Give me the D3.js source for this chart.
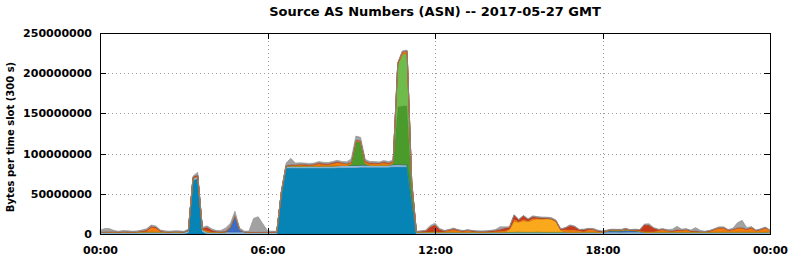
<!DOCTYPE html>
<html>
<head>
<meta charset="utf-8">
<script src="https://cdn.jsdelivr.net/npm/d3@7"></script>
<style>
body { margin: 0; background: #fff; }
svg text { font-family: "DejaVu Sans", sans-serif; font-weight: bold; fill: #000; }
</style>
</head>
<body>
<script>
var title = "Source AS Numbers (ASN) -- 2017-05-27 GMT";
var yLabel = "Bytes per time slot (300 s)";
var dayStart = "2017-05-27T00:00:00Z";
var stepMinutes = 10; // one value every 10 minutes, 145 values (00:00 .. 24:00)
var unit = 1e6;       // series values are in millions of bytes
var yTicks = [0, 50000000, 100000000, 150000000, 200000000, 250000000];
var xTickHours = [0, 6, 12, 18, 24];
var xTickLabels = ["00:00", "06:00", "12:00", "18:00", "00:00"];

// series, bottom to top of the stack
var tealAS = [
	0,0,0,0,0,0,0,0,0,0,0,0,
	0,0,0,0,0,0,0,2,67,69,3,0,
	0,0,0,0,0,0,0,0,0,0,0,0,
	0,0,0,50,82,82,82,82,82,82,82,82,
	82,82,82,82.5,82.5,82.5,82.5,82.5,83,83,83,83,
	83,83,83,83.5,83.5,83.5,83.5,40,0,0,0,0,
	0,0,0,0,0,0,0,0,0,0,0,0,
	0,0,0,0,0,0,0,0,0,0,0,0,
	0,0,0,0,0,0,0,0,0,0,0,0,
	0,0,0,0,0,0,0,0,0,0,0,0,
	0,0,0,0,0,0,0,0,0,0,0,0,
	0,0,0,0,0,0,0,0,0,0,0,0,
	0];
var lightBlueAS = [
	2.6,2.8,2.7,2.5,2.4,2.5,2.6,2.5,2.4,2.5,2.6,2.7,
	2.6,2.5,2.4,2.5,2.6,2.5,2.4,2.5,2.6,2.7,2.8,2.6,
	2.5,2.4,2.5,2.6,2.5,2.4,2.5,2.6,2.5,2.4,2.5,2.6,
	2.5,2.4,2.5,2.6,2.7,2.8,2.7,2.6,2.7,2.8,2.7,2.6,
	2.7,2.8,2.7,2.6,2.7,2.8,2.9,2.8,2.7,2.8,2.7,2.6,
	2.7,2.8,2.7,2.8,2.9,2.8,2.7,2.6,2.5,2.4,2.5,2.6,
	2.5,2.4,2.5,2.6,2.5,2.4,2.3,2.4,2.5,2.4,2.3,2.4,
	2.5,2.6,2.5,2.4,2.5,2.6,2.7,2.6,2.5,2.6,2.7,2.6,
	2.5,2.4,2.5,2.6,2.5,2.4,2.3,2.4,2.5,2.6,2.5,2.4,
	2.3,2.4,2.5,2.4,2.3,2.4,2.5,2.6,2.5,2.4,2.3,2.4,
	2.5,2.6,2.5,2.4,2.5,2.6,2.5,2.4,2.5,2.6,2.5,2.4,
	2.5,2.4,2.5,2.6,2.5,2.4,2.5,2.6,2.5,2.4,2.5,2.6,
	2.5];
var royalAS = [
	0,0,0,0,0,0,0,0,0,0,0,0,
	0,0,0,0,0,0,0,0,0,0,0,0,
	0,0,0,0,6,21,3,0,0,0,0,0,
	0,0,0,0,0,0,0,0,0,0,0,0,
	0,0,0,0,0,0,0,0,0,0,0,0,
	0,0,0,0,0,0,0,0,0,0,0,0,
	0,0,0,0,0,0,0,0,0,0,0,0,
	0,0,0,0,0,0,0,0,0,0,0,0,
	0,0,0,0,0,0,0,0,0,0,0,0,
	0,1,1.5,1,1.5,2,1.5,1,0.5,0,0,0,
	0,0,0,0,0,0,0,0,0,0,0,0,
	0,0,0,0,0,0,0,0,0,0,0,0,
	0];
var darkGreenAS = [
	0,0,0,0,0,0,0,0,0,0,0,0,
	0,0,0,0,0,0,0,0,0,0,0,0,
	0,0,0,0,0,0,0,0,0,0,0,0,
	0,0,0,0,0,0,0,0,0,0,0,0,
	0,0,0,0,0,0,2,30,29,2,0,0,
	0,0,0,2,72,73,73,15,0,0,0,0,
	0,0,0,0,0,0,0,0,0,0,0,0,
	0,0,0,0,0,0,0,0,0,0,0,0,
	0,0,0,0,0,0,0,0,0,0,0,0,
	0,0.5,1,1.5,1,1,0.5,1,0.5,0,0,0,
	0,0,0,0,0,0,0,0,0,0,0,0,
	0,0,0,0,0,0,0,0,0,0,0,0,
	0];
var lightGreenAS = [
	0,0,0,0,0,0,0,0,0,0,0,0,
	0,0,0,0,0,0,0,0,0,0,0,0,
	0,0,0,0,0,0,0,0,0,0,0,0,
	0,0,0,0,0,0,0,0,0,0,0,0,
	0,0,0,0,0,0,0,0,0,0,0,0,
	0,0,0,0,52,64,66,6,0,0,0,0,
	0,0,0,0,0,0,0,0,0,0,0,0,
	0,0,0,0,0,0,0,0,0,0,0,0,
	0,0,0,0,0,0,0,0,0,0,0,0,
	0,0,0,0,0,0,0,0,0,0,0,0,
	0,0,0,0,0,0,0,0,0,0,0,0,
	0,0,0,0,0,0,0,0,0,0,0,0,
	0];
var yellowAS = [
	0,0,0,0,0,0,0,0,0,0,0,0,
	0,0,0,0,0,0,0,0,0,0,0,0,
	0,0,0,0,0,0,0,0,0,0,0,0,
	0,0,0,0,0,0,0,0,0,0,0,0,
	0,0,0,0,0,0,0,0,0,0,0,0,
	0,0,0,0,0,0,0,0,0,0,0,0,
	0,0,0,0,0,0,0,0,0,0,0,0,
	0,0,0,0,3,13,12,14,13,15,16,16,
	16.5,16,13,2,0,0,0,0,0,0,0,0,
	0,0,0,0,0,0,0,0,0,0,0,0,
	0,0,0,0,0,0,0,0,0,0,0,0,
	0,0,0,0,0,0,0,0,0,0,0,0,
	0];
var orangeAS = [
	0,0,0,0.5,0,0.5,0,0,0.5,1,1,6,
	5,1,0.5,0,0.5,0.5,0,0,0.5,1,0.5,2,
	0.5,0.5,0,0,0,0,0,0,0,0,0,0,
	0,0,0,0,0.5,1,1,1.5,1,1,1.5,3,
	2,2,3,4,3,2,1.5,1,1,2,2,2.5,
	2,3,2,1.5,1.5,3,2,1,0.5,0.5,0.5,0.5,
	1,0.5,1,2,3,2,1,2,1,0.5,0.5,0.5,
	0.5,1,1.5,2,1,3,1,2,1,2,1,0.5,
	0.5,0.5,0.5,1,3,3,3,2,1,3,3,1,
	0.5,0.5,0.5,0.5,0.5,1,0.5,0.5,0.5,1,1,1,
	2,3,1.5,1,2,2,3,1,1,0.5,0.5,1,
	3,5,5,2,3,5,5,3,5,1.5,3,5,
	2];
var redAS = [
	0,0,0,0,0,0,0.5,0,0,0.5,1.5,1,
	1,0.5,0,0,0,0,0,0.5,1,1,0.5,4,
	2,0.5,0.5,1,0.5,0,0,0,0,0,0,0,
	0,0,0,0,0,0.5,0.5,0.5,1,0.5,0.5,1,
	1,0.5,1,1,0.5,0.5,0.5,0.5,0.5,1,1,0.5,
	0.5,1,1,0.5,0.5,0.5,0.5,0.5,0,0.5,1,6,
	8,3,0.5,0.5,1,0.5,0.5,0.5,0.5,0.5,0.5,0.5,
	1,1,2,3,2,5,2,4,2,2,1,1,
	0.5,0.5,0.5,0.5,2,5,4,1,2,1,0.5,0.5,
	0.5,0,0,0,0,0,0,0.5,1,8,8,4,
	1,0.5,0.5,0.5,1,0.5,0.5,0.5,0.5,0,0,0.5,
	0.5,0.5,0.5,0.5,0.5,0.5,0.5,0.5,1,0.5,0.5,0.5,
	0];
var grayAS = [
	2,4,4,1.5,1,1.5,1,1,1,1,1.5,1.5,
	1.5,1,1,1,1,1,1,1,1,3,1.5,1.5,
	1.5,1,1.5,4,4,5,2,1,1,17,19,10,
	1.5,1,1,2,3,8,2,2,1.5,1.5,1.5,1.5,
	1.5,1.5,1.5,1.5,1.5,2,4,5,4,2,1.5,1.5,
	1.5,1.5,1.5,1.5,1,1,1,0.5,0.5,0.5,1,1.5,
	2,1,0.5,0.5,1,0.5,0.5,0.5,0.5,0.5,0.5,0.5,
	0.5,1,3,1.5,0.5,0.5,0.5,0.5,0.5,1,1,1,
	1,1,1,0.5,0.5,1,0.5,0.5,0.5,0.5,1,1,
	0.5,0.5,0.5,0.5,0.5,0.5,0.5,0.5,0.5,1,1.5,0.5,
	0.5,0.5,1,2,4,1,0.5,1,4,1.5,0.5,0.5,
	0.5,1,1,0.5,1,6,9,2,0.5,0.5,0.5,0.5,
	0.5];

var seriesKeys = [ "teal", "lightBlue", "royal", "darkGreen", "lightGreen", "yellow", "orange", "red", "gray" ];
var seriesValues = [ tealAS, lightBlueAS, royalAS, darkGreenAS, lightGreenAS, yellowAS, orangeAS, redAS, grayAS ];
var seriesColors = [ "#0684b6", "#8cbadb", "#3b6cc6", "#4b9a2c", "#6dbc4c", "#f9a91b", "#f07d0d", "#c8391a", "#a2a2a2" ];

var width = 792, height = 259;
var margin = { left: 100, right: 22, top: 33, bottom: 25 };

var t0 = new Date(dayStart);
var rows = tealAS.map(function(v, i) {
	var row = { t: new Date(t0.getTime() + i * stepMinutes * 60000) };
	seriesKeys.forEach(function(k, j) {
		row[k] = seriesValues[j][i] * unit;
	});
	return row;
});

var x = d3.scaleUtc()
	.domain([ t0, new Date(t0.getTime() + 24 * 3600000) ])
	.range([ margin.left, width - margin.right ]);
var y = d3.scaleLinear()
	.domain([ 0, 250000000 ])
	.range([ height - margin.bottom, margin.top ]);

var xTicks = xTickHours.map(function(h) {
	return new Date(t0.getTime() + h * 3600000);
});

var svg = d3.select("body").append("svg")
	.attr("width", width)
	.attr("height", height);

// dotted grid
var grid = svg.append("g").attr("stroke", "#9a9a9a").attr("stroke-dasharray", "1,3").attr("shape-rendering", "crispEdges");
grid.selectAll(".hgrid").data(yTicks.slice(1, -1)).enter().append("line")
	.attr("class", "hgrid")
	.attr("x1", x.range()[0]).attr("x2", x.range()[1])
	.attr("y1", function(d) { return Math.round(y(d)) + 0.5; })
	.attr("y2", function(d) { return Math.round(y(d)) + 0.5; });
grid.selectAll(".vgrid").data(xTicks.slice(1, -1)).enter().append("line")
	.attr("class", "vgrid")
	.attr("y1", y.range()[0]).attr("y2", y.range()[1])
	.attr("x1", function(d) { return Math.round(x(d)) + 0.5; })
	.attr("x2", function(d) { return Math.round(x(d)) + 0.5; });

// stacked areas
var stack = d3.stack().keys(seriesKeys);
var layers = stack(rows);
var area = d3.area()
	.x(function(d) { return x(d.data.t); })
	.y0(function(d) { return y(d[0]); })
	.y1(function(d) { return y(d[1]); });

svg.append("g").selectAll("path").data(layers).enter().append("path")
	.attr("d", area)
	.attr("fill", function(d, i) { return seriesColors[i]; })
	.attr("stroke", function(d, i) { return d3.color(seriesColors[i]).darker(0.4); })
	.attr("stroke-width", 0.6);

// axes, ticks pointing inwards
var fmt = d3.format("d");
var axisL = svg.append("g").attr("transform", "translate(" + margin.left + ",0)")
	.call(d3.axisLeft(y).tickValues(yTicks).tickSizeInner(-6).tickSizeOuter(0).tickPadding(8).tickFormat(fmt));
var axisR = svg.append("g").attr("transform", "translate(" + (width - margin.right) + ",0)")
	.call(d3.axisRight(y).tickValues(yTicks).tickSizeInner(-6).tickSizeOuter(0).tickFormat(""));
var axisB = svg.append("g").attr("transform", "translate(0," + (height - margin.bottom) + ")")
	.call(d3.axisBottom(x).tickValues(xTicks).tickSizeInner(-6).tickSizeOuter(0).tickPadding(12)
		.tickFormat(function(d, i) { return xTickLabels[i]; }));
var axisT = svg.append("g").attr("transform", "translate(0," + margin.top + ")")
	.call(d3.axisTop(x).tickValues(xTicks).tickSizeInner(-6).tickSizeOuter(0).tickFormat(""));

[ axisL, axisR, axisB, axisT ].forEach(function(g) {
	g.select(".domain").remove();
	g.attr("font-family", null).attr("font-size", null);
	g.selectAll("line").attr("stroke", "#000").attr("shape-rendering", "crispEdges");
	g.selectAll("text").style("font-size", "11px");
});

svg.append("rect")
	.attr("x", margin.left + 0.5).attr("y", margin.top + 0.5)
	.attr("width", width - margin.left - margin.right)
	.attr("height", height - margin.top - margin.bottom)
	.attr("fill", "none").attr("stroke", "#000").attr("shape-rendering", "crispEdges");

svg.append("text")
	.attr("x", (margin.left + width - margin.right) / 2)
	.attr("y", 16)
	.attr("text-anchor", "middle")
	.style("font-size", "13px")
	.text(title);

svg.append("text")
	.attr("transform", "translate(14,137) rotate(-90)")
	.attr("text-anchor", "middle")
	.style("font-size", "10px")
	.text(yLabel);
</script>
</body>
</html>
